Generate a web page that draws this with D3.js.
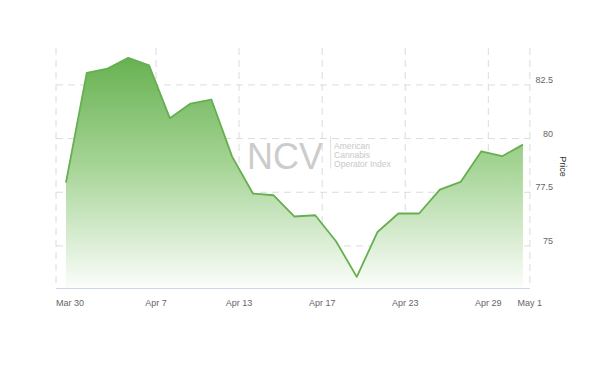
<!DOCTYPE html>
<html>
<head>
<meta charset="utf-8">
<script src="https://cdn.jsdelivr.net/npm/d3@7"></script>
<style>
  body { margin: 0; background: #fff; }
  svg { display: block; font-family: "Liberation Sans", Arial, sans-serif; }
  .tick-label { fill: #666; font-size: 9px; }
  .axis-title { fill: #333; font-size: 9px; }
</style>
</head>
<body>
<div id="chart"></div>
<script>
// trading days shown on the chart (ordinal x axis, weekends skipped)
const dates = ['2020-03-31', '2020-04-01', '2020-04-02', '2020-04-03', '2020-04-06',
  '2020-04-07', '2020-04-08', '2020-04-09', '2020-04-10', '2020-04-13', '2020-04-14',
  '2020-04-15', '2020-04-16', '2020-04-17', '2020-04-20', '2020-04-21', '2020-04-22',
  '2020-04-23', '2020-04-24', '2020-04-27', '2020-04-28', '2020-04-29', '2020-04-30'];

const prices = [77.95, 83.06, 83.26, 83.76, 83.41, 80.95, 81.63, 81.82, 79.16, 77.44,
  77.36, 76.37, 76.43, 75.22, 73.56, 75.65, 76.51, 76.51, 77.62, 77.98, 79.41, 79.18, 79.72];

const tickDates = ['2020-03-30', '2020-04-07', '2020-04-13', '2020-04-17', '2020-04-23', '2020-04-29', '2020-05-01'];
const tickLabels = ['Mar 30', 'Apr 7', 'Apr 13', 'Apr 17', 'Apr 23', 'Apr 29', 'May 1'];

const yTicks = [75, 77.5, 80, 82.5];
const yTitle = 'Price';
const watermark = 'NCV';
const watermarkLines = ['American', 'Cannabis', 'Operator Index'];

const config = {
  width: 600,
  height: 380,
  margin: {top: 48, right: 70, bottom: 92, left: 56}
};

const width = config.width - config.margin.left - config.margin.right;
const height = config.height - config.margin.top - config.margin.bottom;

const data = dates.map((d, i) => ({date: d, index: i, value: prices[i]}));

const svg = d3.select('#chart').append('svg')
  .attr('width', config.width)
  .attr('height', config.height);

const g = svg.append('g')
  .attr('transform', `translate(${config.margin.left},${config.margin.top})`);

// ordinal axis: x is the trading day index
const xScale = d3.scaleLinear()
  .domain([-0.48, 22.34])
  .range([0, width]);

const yScale = d3.scaleLinear()
  .domain([73.04, 84.22])
  .range([height, 0]);

// midnight of a date sits 2/3 of a step before that day's point
const tickIndex = d => {
  let k = dates.findIndex(x => x >= d);
  if (k < 0) k = dates.length;
  return Math.max(xScale.domain()[0], k - 2 / 3);
};

// watermark
const wm = g.append('g')
  .attr('transform', `translate(${xScale(8.72)},${yScale(78.6)})`);
wm.append('text')
  .attr('x', 0)
  .attr('y', 0)
  .attr('fill', '#cccccc')
  .style('font-size', '36px')
  .text(watermark);
wm.append('line')
  .attr('x1', 83.5).attr('x2', 83.5)
  .attr('y1', -33).attr('y2', 0)
  .attr('stroke', '#e0e0e0');
wm.selectAll('.wm-line')
  .data(watermarkLines)
  .join('text')
  .attr('class', 'wm-line')
  .attr('x', 87)
  .attr('y', (d, i) => -20 + i * 9)
  .attr('fill', '#c8c8c8')
  .style('font-size', '8.5px')
  .text(d => d);

// gridlines
g.selectAll('.y-grid')
  .data(yTicks)
  .join('line')
  .attr('class', 'y-grid')
  .attr('x1', 0)
  .attr('x2', width)
  .attr('y1', d => yScale(d))
  .attr('y2', d => yScale(d))
  .attr('stroke', '#dcdcdc')
  .attr('stroke-dasharray', '7,5');

g.selectAll('.x-grid')
  .data(tickDates)
  .join('line')
  .attr('class', 'x-grid')
  .attr('x1', d => xScale(tickIndex(d)))
  .attr('x2', d => xScale(tickIndex(d)))
  .attr('y1', 0)
  .attr('y2', height)
  .attr('stroke', '#dcdcdc')
  .attr('stroke-dasharray', '7,5');

// gradient fill
const gradient = svg.append('defs').append('linearGradient')
  .attr('id', 'area-gradient')
  .attr('gradientUnits', 'userSpaceOnUse')
  .attr('x1', 0).attr('x2', 0)
  .attr('y1', yScale(d3.max(prices)))
  .attr('y2', height);

gradient.selectAll('stop')
  .data([
    {offset: '0%', color: '#68b252'},
    {offset: '45%', color: '#a3d393'},
    {offset: '100%', color: '#fbfdfa'}
  ])
  .join('stop')
  .attr('offset', d => d.offset)
  .attr('stop-color', d => d.color);

const area = d3.area()
  .x(d => xScale(d.index))
  .y0(height)
  .y1(d => yScale(d.value));

const line = d3.line()
  .x(d => xScale(d.index))
  .y(d => yScale(d.value));

g.append('path')
  .datum(data)
  .attr('d', area)
  .attr('fill', 'url(#area-gradient)');

g.append('path')
  .datum(data)
  .attr('d', line)
  .attr('fill', 'none')
  .attr('stroke', '#66af50')
  .attr('stroke-width', 1.8)
  .attr('stroke-linejoin', 'round');

// x axis line
g.append('line')
  .attr('x1', 0)
  .attr('x2', width)
  .attr('y1', height + 0.5)
  .attr('y2', height + 0.5)
  .attr('stroke', '#ccd6eb');

// x labels, the first one is pushed inside the plot
g.selectAll('.x-label')
  .data(tickDates)
  .join('text')
  .attr('class', 'tick-label x-label')
  .attr('x', d => xScale(tickIndex(d)))
  .attr('y', height + 18)
  .attr('text-anchor', (d, i) => i === 0 ? 'start' : 'middle')
  .text((d, i) => tickLabels[i]);

// y labels on the right
g.selectAll('.y-label')
  .data(yTicks)
  .join('text')
  .attr('class', 'tick-label y-label')
  .attr('x', width + 23)
  .attr('y', d => yScale(d) - 2)
  .attr('text-anchor', 'end')
  .text(d => d);

g.append('text')
  .attr('class', 'axis-title')
  .attr('transform', `translate(${width + 30},${yScale(78.7)}) rotate(90)`)
  .attr('text-anchor', 'middle')
  .text(yTitle);
</script>
</body>
</html>
